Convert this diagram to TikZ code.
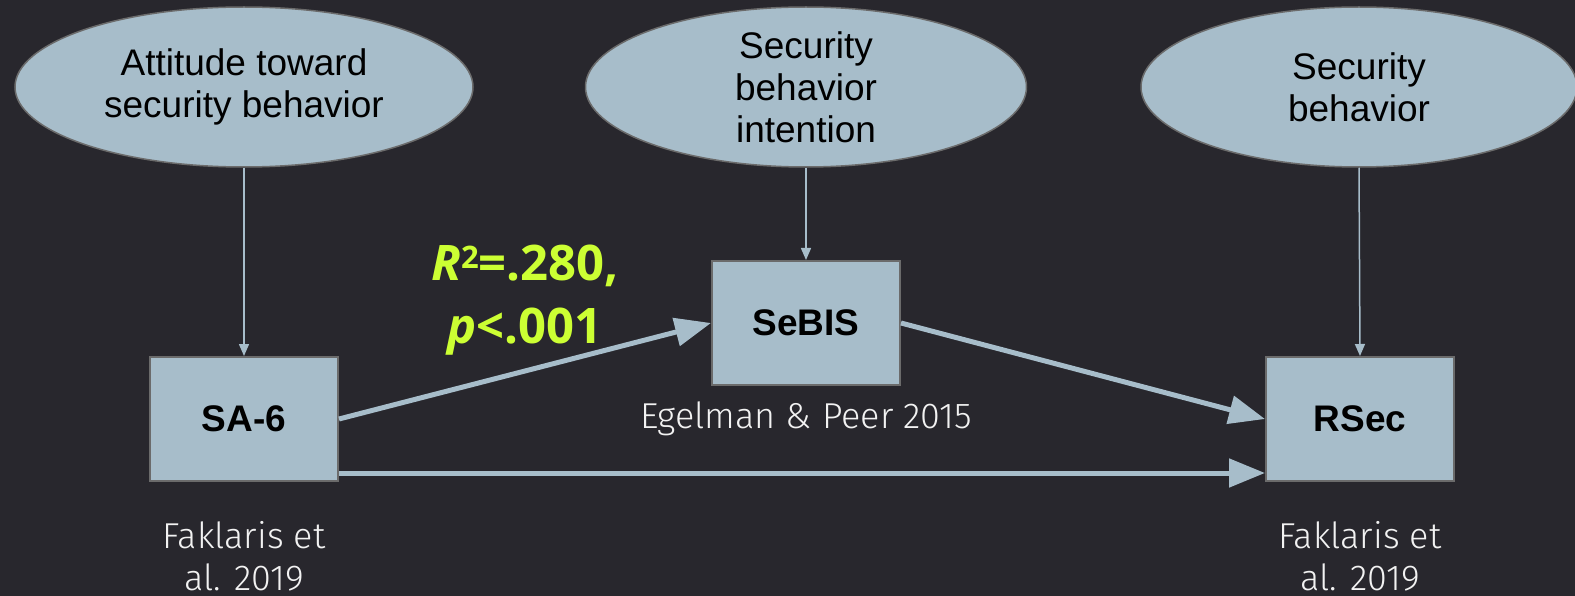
\documentclass[tikz,border=0pt]{standalone}
\usepackage{fontspec}
\setmainfont{Liberation Sans}
\newfontfamily\statfont{Open Sans}
\newfontfamily\firalight{Fira Sans Light}
\usetikzlibrary{arrows.meta,shapes.geometric}
\definecolor{bg}{HTML}{28272D}
\definecolor{boxfill}{HTML}{A7BDCA}
\definecolor{boxline}{HTML}{6B6B6B}
\definecolor{accent}{HTML}{CCFF33}
\definecolor{citetext}{HTML}{F2F2F2}
\begin{document}
\begin{tikzpicture}[x=1pt,y=-1pt,
  latent/.style={ellipse, draw=boxline, line width=1.5pt, fill=boxfill,
    minimum height=160pt, inner sep=0pt, align=center,
    font=\fontsize{37}{42}\selectfont},
  observed/.style={rectangle, draw=boxline, line width=2pt, fill=boxfill,
    minimum width=188pt, minimum height=124pt, inner sep=0pt,
    font=\fontsize{37}{42}\selectfont\bfseries},
  citelabel/.style={text=citetext, align=center, inner sep=0pt,
    font=\firalight\fontsize{36}{42}\selectfont},
  statlabel/.style={text=accent, align=center, inner sep=0pt,
    font=\statfont\bfseries\fontsize{49}{63}\selectfont},
  thinarrow/.style={draw=boxfill, line width=1.5pt, -{Triangle[length=12pt,width=10pt]}},
  thickarrow/.style={draw=boxfill, line width=5pt, -{Triangle[length=36pt,width=28pt]}}]
\fill[bg] (0,0) rectangle (1575,596);
\useasboundingbox (0,0) rectangle (1575,596);

\node[latent, minimum width=458pt] (att) at (244,87) {Attitude toward\\security behavior};
\node[latent, minimum width=441pt] (int) at (806,87) {Security\\behavior\\intention};
\node[latent, minimum width=436pt] (beh) at (1359,87) {Security\\behavior};

\node[observed] (sa) at (244,419) {SA-6};
\node[observed] (sebis) at (806,323) {SeBIS};
\node[observed] (rsec) at (1360,419) {RSec};

\node[citelabel] (c1) at (244,556) {Faklaris et\\al. 2019};
\node[citelabel] (c2) at (806,419) {Egelman \& Peer 2015};
\node[citelabel] (c3) at (1360,556) {Faklaris et\\al. 2019};

\node[statlabel] (r2) at (525,300) {{\itshape R}\raisebox{12pt}{\fontsize{31}{31}\selectfont 2}=.280,\\{\itshape p}<.001};

\draw[thinarrow] (att.south) -- (sa.north);
\draw[thinarrow] (int.south) -- (sebis.north);
\draw[thinarrow] (beh.south) -- (rsec.north);

\draw[thickarrow] (sa.east) -- (sebis.west);
\draw[thickarrow] (sebis.east) -- (rsec.west);
\draw[thickarrow] ([yshift=9pt]sa.south east) -- ([yshift=9pt]rsec.south west);
\end{tikzpicture}
\end{document}
